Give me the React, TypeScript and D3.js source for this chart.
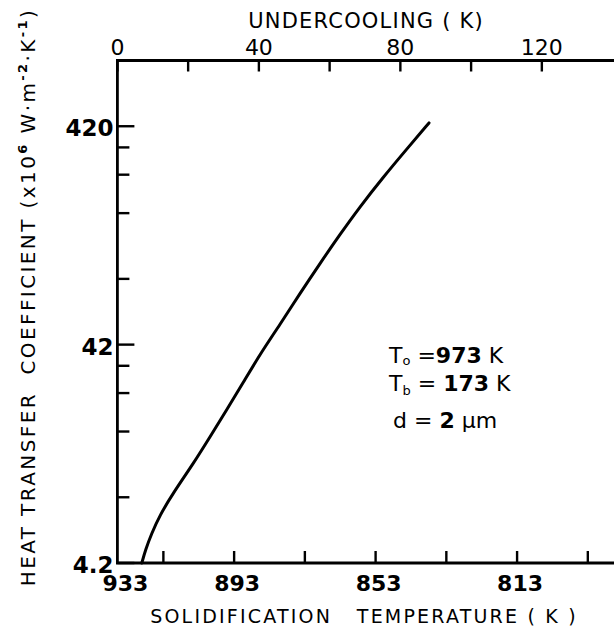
import * as d3 from "d3";

// undercooling axis (top), K
const undercoolingTicks = [0, 20, 40, 60, 80, 100, 120];
const undercoolingLabels = [0, 40, 80, 120];

// solidification temperature axis (bottom), K
const tempAtZeroUndercooling = 926; // as drawn on the original
const tempTicks = [913, 893, 873, 853, 833, 813, 793];
const tempLabels = [893, 853, 813];
const cornerTempLabel = "933";

// heat transfer coefficient axis (log), x10^6 W m^-2 K^-1
const hMajor = [4.2, 42, 420];
const hMinor = [8.4, 16.8, 25.2, 33.6, 84, 168, 252, 336];

// curve
const undercooling = [6.9, 8.0, 9.6, 12.0, 15.8, 21.5, 26.2, 30.9, 35.6, 40.3, 46.0, 51.6, 57.3, 62.9, 68.6, 75.2, 81.8, 88.1];
const hValues = [4.2, 4.85, 5.7, 6.95, 8.8, 12.0, 15.9, 21.1, 28.2, 37.9, 52.0, 72.0, 99.0, 134, 180, 246, 330, 435];

const width = 614;
const height = 630;
const left = 117.4;
const top = 60.5;
const bottom = 563;

const font = "'DejaVu Sans', sans-serif";

export default function App() {
  const x = d3.scaleLinear().domain([0, 140.4]).range([left, width]);
  const xT = d3
    .scaleLinear()
    .domain([tempAtZeroUndercooling, tempAtZeroUndercooling - 140.4])
    .range([left, width]);
  const y = d3.scaleLog().domain([4.2, 840]).range([bottom, top]);

  const pts = undercooling.map((u, i) => [u, hValues[i]] as [number, number]);
  const line = d3
    .line<[number, number]>()
    .x((d) => x(d[0]))
    .y((d) => y(d[1]))
    .curve(d3.curveBasis);

  return (
    <svg
      width={width}
      height={height}
      style={{ position: "absolute", left: 0, top: 0, background: "#fff" }}
      fontFamily={font}
    >
      {/* axes lines */}
      <path
        d={`M${width},${top}H${left}V${bottom}H${width}`}
        fill="none"
        stroke="#000"
        strokeWidth={2.8}
      />

      {/* top ticks */}
      {undercoolingTicks.map((t) => (
        <line key={"ut" + t} x1={x(t)} x2={x(t)} y1={top} y2={top + 11} stroke="#000" strokeWidth={2.4} />
      ))}
      {undercoolingLabels.map((t) => (
        <text key={"ul" + t} x={x(t)} y={top - 6} textAnchor="middle" fontSize={22}>
          {t}
        </text>
      ))}
      <text x={366} y={28} textAnchor="middle" fontSize={21} letterSpacing={1.2}>
        UNDERCOOLING ( K)
      </text>

      {/* bottom ticks */}
      {tempTicks.map((t) => (
        <line key={"tt" + t} x1={xT(t)} x2={xT(t)} y1={bottom} y2={bottom - 12} stroke="#000" strokeWidth={2.4} />
      ))}
      {tempLabels.map((t) => (
        <text key={"tl" + t} x={xT(t) + 3} y={591} textAnchor="middle" fontSize={22} fontWeight="bold">
          {t}
        </text>
      ))}
      <text x={left + 8} y={591} textAnchor="middle" fontSize={22} fontWeight="bold">
        {cornerTempLabel}
      </text>
      <text x={364} y={623} textAnchor="middle" fontSize={19} letterSpacing={2.2} xmlSpace="preserve">
        {"SOLIDIFICATION   TEMPERATURE ( K )"}
      </text>

      {/* left ticks */}
      {hMinor.map((v) => (
        <line key={"hm" + v} x1={left} x2={left + 12} y1={y(v)} y2={y(v)} stroke="#000" strokeWidth={2.4} />
      ))}
      {hMajor.map((v) => (
        <line key={"hM" + v} x1={left} x2={left + 17} y1={y(v)} y2={y(v)} stroke="#000" strokeWidth={2.4} />
      ))}
      {hMajor.map((v) => (
        <text key={"hl" + v} x={left - 4} y={y(v) + 10} textAnchor="end" fontSize={23} fontWeight="bold">
          {v}
        </text>
      ))}
      <text
        transform={`translate(35,297) rotate(-90)`}
        textAnchor="middle"
        fontSize={20}
        letterSpacing={2.4}
        xmlSpace="preserve"
      >
        {"HEAT TRANSFER  COEFFICIENT (x10"}
        <tspan fontSize={13} dy={-8} fontWeight="bold">6</tspan>
        <tspan dy={8}>{" W·m"}</tspan>
        <tspan fontSize={13} dy={-8} fontWeight="bold">-2</tspan>
        <tspan dy={8}>·K</tspan>
        <tspan fontSize={13} dy={-8} fontWeight="bold">-1</tspan>
        <tspan dy={8}>)</tspan>
      </text>

      {/* curve */}
      <path d={line(pts) ?? ""} fill="none" stroke="#000" strokeWidth={3} strokeLinecap="round" />

      {/* annotation */}
      <g fontSize={22}>
        <text x={389} y={363}>
          T<tspan fontSize={13} dy={2}>o</tspan>
          <tspan dy={-2}> =</tspan>
          <tspan fontWeight="bold">973</tspan> K
        </text>
        <text x={389} y={391}>
          T<tspan fontSize={13} dy={4}>b</tspan>
          <tspan dy={-4}> = </tspan>
          <tspan fontWeight="bold">173</tspan> K
        </text>
        <text x={393} y={428}>
          d = <tspan fontWeight="bold">2</tspan> μm
        </text>
      </g>
    </svg>
  );
}
